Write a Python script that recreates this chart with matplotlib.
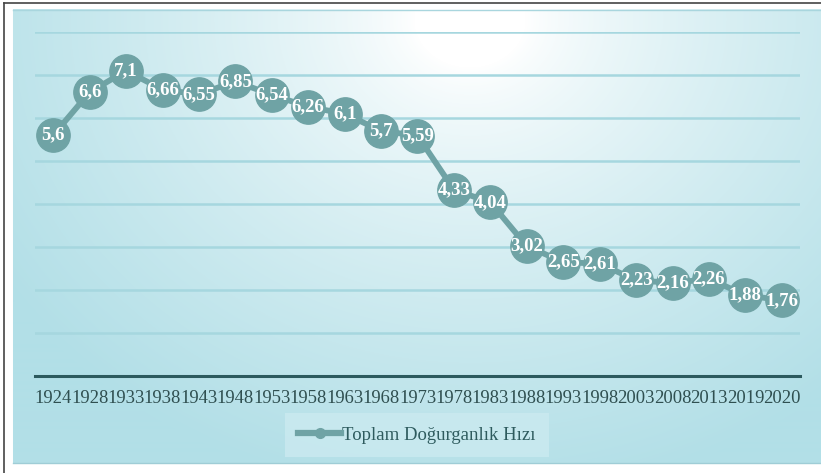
import numpy as np
import matplotlib.pyplot as plt
from matplotlib.lines import Line2D

years = ['1924', '1928', '1933', '1938', '1943', '1948', '1953', '1958', '1963', '1968',
         '1973', '1978', '1983', '1988', '1993', '1998', '2003', '2008', '2013', '2019', '2020']
tfr = [5.6, 6.6, 7.1, 6.66, 6.55, 6.85, 6.54, 6.26, 6.1, 5.7,
       5.59, 4.33, 4.04, 3.02, 2.65, 2.61, 2.23, 2.16, 2.26, 1.88, 1.76]
labels = ['5,6', '6,6', '7,1', '6,66', '6,55', '6,85', '6,54', '6,26', '6,1', '5,7',
          '5,59', '4,33', '4,04', '3,02', '2,65', '2,61', '2,23', '2,16', '2,26', '1,88', '1,76']

W, H = 821, 473
plt.rcParams['font.family'] = ['Liberation Serif', 'DejaVu Serif']
fig = plt.figure(figsize=(W / 100, H / 100), dpi=100)

# background: radial gradient panel
bg = fig.add_axes([0, 0, 1, 1])
bg.set_xlim(0, W)
bg.set_ylim(H, 0)
bg.axis('off')
yy, xx = np.mgrid[0:H, 0:W]
d = np.sqrt(((xx - 470) / 560.0) ** 2 + ((yy - 20) / 480.0) ** 2)
t = np.clip((d - 0.1) / 0.9, 0, 1) ** 0.75
c0 = np.array([1.0, 1.0, 1.0])
c1 = np.array([0xb2, 0xdf, 0xe7]) / 255
img = c0[None, None, :] * (1 - t[..., None]) + c1[None, None, :] * t[..., None]
mask = (xx >= 13) & (yy >= 10) & (yy <= 462)
img[~mask] = 1.0
bg.imshow(img, extent=(0, W, H, 0), aspect='auto', interpolation='bilinear')
bg.plot([4, 4], [3, H], color='#444444', lw=1.2)
bg.plot([4, W], [3, 3], color='#444444', lw=1.2)
bg.plot([13, W], [10.5, 10.5], color='#a9d6de', lw=1)
bg.plot([13, W], [462.5, 462.5], color='#9fcdd6', lw=1)

ax = fig.add_axes([35 / W, 1 - 376 / H, (800 - 35) / W, (376 - 32) / H])
ax.patch.set_alpha(0)
x = np.arange(len(years))
line, = ax.plot(x, tfr, color='#6fa3a5', lw=4.2, marker='o', markersize=24,
                markerfacecolor='#6fa3a5', markeredgecolor='#6fa3a5', zorder=3)
for xi, v, s in zip(x, tfr, labels):
    ax.text(xi, v, s, ha='center', va='center', color='white', fontsize=13.5,
            fontweight='bold', zorder=4)

ax.set_xlim(-0.5, len(years) - 0.5)
ax.set_ylim(0, 8)
ax.set_yticks(np.arange(1, 9))
ax.yaxis.grid(True, color='#a6d7df', lw=1.8)
ax.set_axisbelow(True)
ax.tick_params(axis='y', left=False, labelleft=False)
ax.set_xticks(x)
ax.set_xticklabels(years, fontsize=13.4, color='#2f4f50')
ax.tick_params(axis='x', length=0, pad=10)
for s in ['top', 'right', 'left']:
    ax.spines[s].set_visible(False)
ax.spines['bottom'].set_color('#2c5a5e')
ax.spines['bottom'].set_linewidth(2.2)

handle = Line2D([], [], color='#6fa3a5', lw=4.5, marker='o', markersize=7)
leg = fig.legend([handle], ['Toplam Doğurganlık Hızı'], loc='center',
                 bbox_to_anchor=(417 / W, 1 - 435 / H), frameon=True, fontsize=13.5,
                 handlelength=2.3, handletextpad=0.05, borderpad=0.4)
leg.get_frame().set_facecolor('#cbeaf0')
leg.get_frame().set_edgecolor('none')
leg.get_frame().set_alpha(0.8)
leg.get_frame().set_boxstyle('square', pad=0.3)
for txt in leg.get_texts():
    txt.set_color('#2e5b5e')

fig.savefig('out.png', dpi=100)
